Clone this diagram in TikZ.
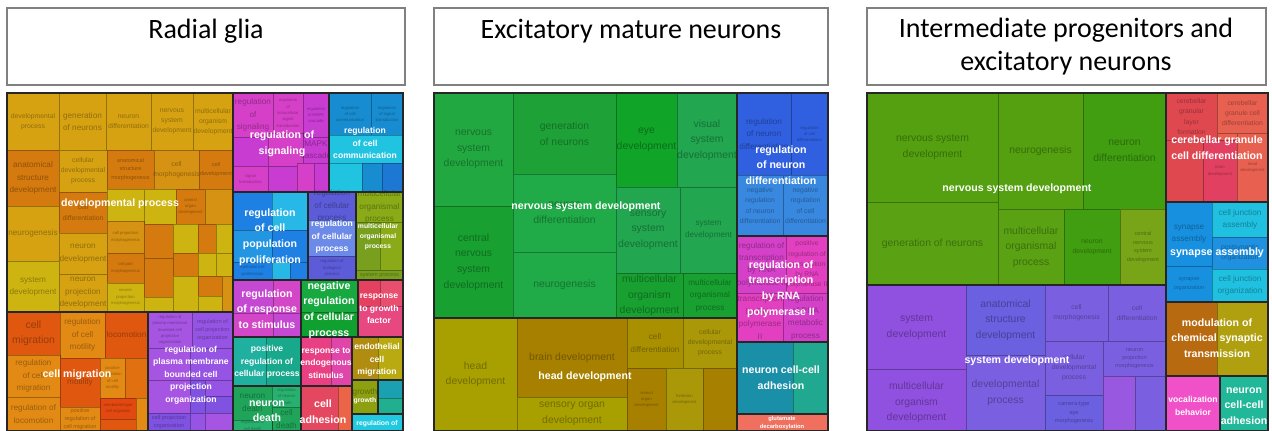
\documentclass[tikz,border=0pt]{standalone}
\usepackage{fontspec}
\setsansfont{Liberation Sans}
\newfontfamily\titlefont{Carlito}

% treemap colours
\definecolor{gold}{RGB}{214,162,18}
\definecolor{gold2}{RGB}{214,146,18}
\definecolor{ambr}{RGB}{212,122,14}
\definecolor{yell}{RGB}{206,180,16}
\definecolor{redor}{RGB}{224,88,16}
\definecolor{redor2}{RGB}{224,112,16}
\definecolor{orng}{RGB}{226,138,20}
\definecolor{redC}{RGB}{226,72,16}
\definecolor{prpA}{RGB}{166,84,226}
\definecolor{prpB}{RGB}{150,84,228}
\definecolor{prpC}{RGB}{128,82,226}
\definecolor{mgA}{RGB}{214,64,200}
\definecolor{mgB}{RGB}{200,60,210}
\definecolor{mgC}{RGB}{196,72,210}
\definecolor{mgD}{RGB}{212,70,200}
\definecolor{cbA}{RGB}{24,140,208}
\definecolor{cbB}{RGB}{28,120,210}
\definecolor{cyA}{RGB}{32,196,224}
\definecolor{blA}{RGB}{30,128,226}
\definecolor{blB}{RGB}{34,150,226}
\definecolor{cyB}{RGB}{40,184,232}
\definecolor{viA}{RGB}{92,92,216}
\definecolor{viB}{RGB}{108,138,232}
\definecolor{olG}{RGB}{138,170,24}
\definecolor{olH}{RGB}{120,160,30}
\definecolor{grA}{RGB}{24,168,64}
\definecolor{grB}{RGB}{16,160,48}
\definecolor{rdA}{RGB}{228,64,96}
\definecolor{rdA2}{RGB}{234,78,110}
\definecolor{pkA}{RGB}{232,72,128}
\definecolor{tlA}{RGB}{32,176,160}
\definecolor{tlB}{RGB}{24,168,140}
\definecolor{pkB}{RGB}{232,64,130}
\definecolor{pkC}{RGB}{224,70,170}
\definecolor{olA}{RGB}{176,140,16}
\definecolor{olB}{RGB}{184,170,16}
\definecolor{olC}{RGB}{140,160,16}
\definecolor{tlC}{RGB}{26,160,176}
\definecolor{tlD}{RGB}{32,176,144}
\definecolor{cyC}{RGB}{32,200,224}
\definecolor{grC}{RGB}{32,164,90}
\definecolor{grD}{RGB}{40,176,110}
\definecolor{rdB}{RGB}{228,72,96}
\definecolor{rdC}{RGB}{236,100,72}
\definecolor{gnA}{RGB}{34,168,64}
\definecolor{gnA2}{RGB}{30,162,56}
\definecolor{gnB}{RGB}{24,160,48}
\definecolor{gnC}{RGB}{32,170,72}
\definecolor{gnD}{RGB}{16,164,40}
\definecolor{gnE}{RGB}{34,166,80}
\definecolor{hdA}{RGB}{168,160,0}
\definecolor{hdB}{RGB}{168,128,0}
\definecolor{hdC}{RGB}{168,144,0}
\definecolor{hdD}{RGB}{170,152,8}
\definecolor{nbA}{RGB}{48,96,224}
\definecolor{nbB}{RGB}{56,136,224}
\definecolor{tmA}{RGB}{212,64,200}
\definecolor{tmB}{RGB}{226,64,192}
\definecolor{taA}{RGB}{26,144,168}
\definecolor{taB}{RGB}{32,168,144}
\definecolor{smA}{RGB}{240,112,96}
\definecolor{igA}{RGB}{84,160,16}
\definecolor{igB}{RGB}{90,162,20}
\definecolor{igC}{RGB}{64,158,16}
\definecolor{igD}{RGB}{120,164,24}
\definecolor{ipA}{RGB}{144,80,224}
\definecolor{ipB}{RGB}{106,96,224}
\definecolor{ipC}{RGB}{122,96,224}
\definecolor{ipD}{RGB}{152,88,224}
\definecolor{crA}{RGB}{224,72,80}
\definecolor{crB}{RGB}{232,96,80}
\definecolor{crC}{RGB}{226,64,96}
\definecolor{syA}{RGB}{24,144,224}
\definecolor{syB}{RGB}{32,192,224}
\definecolor{syC}{RGB}{32,144,224}
\definecolor{mdA}{RGB}{184,106,16}
\definecolor{mdB}{RGB}{176,160,16}
\definecolor{voA}{RGB}{240,80,200}
\definecolor{nnA}{RGB}{32,184,152}

% one treemap cell: [size]{x1}{y1}{x2}{y2}{fill}{text}
\newcommand{\tmcell}[7][sz3]{%
  \filldraw[cell, fill=#6] (#2,#3) rectangle (#4,#5);
  \node[sub, #1] (c#2-#3) at ({(#2+#4)/2},{(#3+#5)/2}) {#7};}
% thick frame round one term group
\newcommand{\tmgroup}[4]{\draw[grp] (#1,#2) rectangle (#3,#4);}

\begin{document}
\begin{tikzpicture}[
    x=0.5pt, y=-0.5pt,
    cell/.style={draw=black, draw opacity=0.3, line width=0.4pt},
    grp/.style={draw=black!85, line width=1pt},
    titlebox/.style={draw=black!50, line width=0.6pt},
    ttl/.style={font=\titlefont\fontsize{14}{16.5}\selectfont, align=center, inner sep=0pt},
    sub/.style={text=black, text opacity=0.32, align=center, inner sep=0pt},
    sz1/.style={font=\sffamily\fontsize{5.2}{7.8}\selectfont},
    sz2/.style={font=\sffamily\fontsize{4.1}{6.2}\selectfont},
    sz3/.style={font=\sffamily\fontsize{3.4}{5.1}\selectfont},
    sz4/.style={font=\sffamily\fontsize{2.8}{4.2}\selectfont},
    sz5/.style={font=\sffamily\fontsize{2.1}{3.2}\selectfont},
    lbl/.style={text=white, align=center, inner sep=0pt, font=\sffamily\bfseries\fontsize{5.3}{7.8}\selectfont},
    lblM/.style={lbl, font=\sffamily\bfseries\fontsize{4.3}{6.3}\selectfont},
    lblS/.style={lbl, font=\sffamily\bfseries\fontsize{3.4}{5}\selectfont},
    lblT/.style={lbl, font=\sffamily\bfseries\fontsize{2.9}{3.6}\selectfont}
]
\useasboundingbox (0,0) rectangle (1272,431);
\clip (0,0) rectangle (1272,431);

% Titles
\draw[titlebox] (7,8) rectangle (405,85);
\node[ttl] (t1) at (206,31) {Radial glia};
\draw[titlebox] (434,8) rectangle (828,85);
\node[ttl] (t2) at (631,31) {Excitatory mature neurons};
\draw[titlebox] (867,8) rectangle (1266,85);
\node[ttl] (t3) at (1066,47) {Intermediate progenitors and\\excitatory neurons};

% ---------------- Radial glia ----------------
% developmental process
\tmcell{7}{93}{59}{150}{gold}{developmental\\process}
\tmcell[sz2]{59}{93}{106}{150}{gold}{generation\\of neurons}
\tmcell{106}{93}{151}{150}{gold}{neuron\\differentiation}
\tmcell{151}{93}{193}{150}{gold}{nervous\\system\\development}
\tmcell{193}{93}{233}{150}{gold}{multicellular\\organism\\development}
\tmcell[sz2]{7}{150}{59}{206}{ambr}{anatomical\\structure\\development}
\tmcell[sz2]{7}{206}{59}{261}{gold}{neurogenesis}
\tmcell[sz2]{7}{261}{59}{312}{yell}{system\\development}
\tmcell{59}{150}{107}{192}{gold}{cellular\\developmental\\process}
\tmcell{59}{192}{107}{233}{ambr}{cell\\differentiation}
\tmcell[sz2]{59}{233}{107}{274}{gold}{neuron\\development}
\tmcell[sz2]{59}{274}{107}{312}{gold}{neuron\\projection\\development}
\tmcell[sz4]{107}{150}{154}{189}{ambr}{anatomical\\structure\\morphogenesis}
\tmcell{154}{150}{199}{189}{gold2}{cell\\morphogenesis}
\tmcell[sz4]{199}{150}{233}{189}{ambr}{cell\\development}
\tmcell{107}{189}{144}{221}{yell}{}
\tmcell{144}{189}{176}{224}{yell}{}
\tmcell[sz5]{176}{189}{205}{224}{ambr}{animal\\organ\\development}
\tmcell{205}{189}{233}{224}{gold2}{}
\tmcell[sz5]{107}{221}{144}{253}{gold2}{cell projection\\morphogenesis}
\tmcell[sz5]{107}{253}{144}{283}{ambr}{cell part\\morphogenesis}
\tmcell[sz5]{107}{283}{144}{312}{yell}{neuron\\projection\\morphogenesis}
\tmcell{144}{224}{173}{258}{ambr}{}
\tmcell{144}{258}{173}{297}{ambr}{}
\tmcell{144}{297}{173}{312}{yell}{}
\tmcell{173}{224}{198}{253}{yell}{}
\tmcell{198}{224}{216}{253}{ambr}{}
\tmcell{216}{224}{233}{253}{yell}{}
\tmcell{173}{253}{198}{276}{ambr}{}
\tmcell{198}{253}{216}{276}{yell}{}
\tmcell{216}{253}{233}{276}{yell}{}
\tmcell{173}{276}{198}{312}{yell}{}
\tmcell{198}{276}{222}{296}{ambr}{}
\tmcell{198}{296}{222}{312}{yell}{}
\tmcell{222}{276}{233}{312}{gold2}{}
% cell migration
\tmcell[sz1]{7}{312}{60}{355}{redor}{cell\\migration}
\tmcell[sz2]{60}{312}{105}{358}{orng}{regulation\\of cell\\motility}
\tmcell[sz2]{105}{312}{148}{358}{redor}{locomotion}
\tmcell[sz2]{7}{355}{60}{397}{orng}{regulation\\of cell\\migration}
\tmcell[sz2]{7}{397}{60}{431}{orng}{regulation of\\locomotion}
\tmcell[sz2]{60}{358}{100}{407}{redor}{motility}
\tmcell[sz5]{100}{358}{125}{398}{orng}{positive\\regulation\\of cell\\motility}
\tmcell{125}{358}{148}{398}{redor2}{}
\tmcell[sz4]{60}{407}{100}{431}{orng}{positive\\regulation of\\cell migration}
\tmcell[sz5]{100}{398}{136}{419}{redC}{ameboidal-type\\cell migration}
\tmcell{100}{419}{136}{431}{redor}{}
\tmcell{136}{398}{148}{431}{orng}{}
% plasma membrane bounded cell projection
\tmcell[sz5]{148}{312}{192}{348}{prpA}{regulation of\\plasma membrane\\bounded cell\\projection\\organization}
\tmcell[sz4]{192}{312}{233}{348}{prpB}{regulation of\\cell projection\\organization}
\tmcell{148}{348}{190}{380}{prpA}{}
\tmcell{190}{348}{233}{380}{prpB}{}
\tmcell{148}{380}{190}{413}{prpA}{}
\tmcell{190}{380}{205}{413}{prpC}{}
\tmcell{205}{380}{233}{396}{prpB}{}
\tmcell{205}{396}{233}{413}{prpC}{}
\tmcell[sz4]{148}{413}{190}{431}{prpC}{cell projection\\organization}
\tmcell{190}{413}{205}{431}{prpB}{}
\tmcell{205}{413}{233}{431}{prpA}{}
% signaling
\tmcell[sz2]{233}{93}{273}{137}{mgA}{regulation\\of\\signaling}
\tmcell[sz5]{273}{93}{303}{133}{mgA}{regulation\\of\\intracellular\\signal\\transduction}
\tmcell[sz5]{303}{93}{329}{137}{mgB}{regulation\\of MAPK\\cascade}
\tmcell{233}{137}{268}{166}{mgB}{}
\tmcell{268}{133}{303}{166}{mgA}{}
\tmcell[sz2]{303}{137}{329}{163}{mgB}{MAPK\\cascade}
\tmcell[sz5]{233}{166}{268}{192}{mgA}{signal\\transduction}
\tmcell{268}{166}{297}{192}{mgB}{}
\tmcell{297}{163}{314}{192}{mgA}{}
\tmcell{314}{163}{329}{192}{mgB}{}
% cell communication
\tmcell[sz5]{329}{93}{371}{135}{cbA}{regulation\\of cell\\communication}
\tmcell[sz5]{371}{93}{403}{135}{cbA}{regulation\\of signal\\transduction}
\tmcell{329}{135}{403}{163}{cyA}{}
\tmcell{329}{163}{362}{192}{cyA}{}
\tmcell{362}{163}{382}{192}{cbA}{}
\tmcell{382}{163}{403}{192}{cbB}{}
% proliferation
\tmcell{233}{192}{272}{230}{blA}{}
\tmcell{272}{192}{308}{230}{cyB}{}
\tmcell{233}{230}{272}{262}{blB}{}
\tmcell{272}{230}{308}{262}{blA}{}
\tmcell[sz5]{233}{262}{272}{280}{blA}{epithelial cell\\proliferation}
\tmcell{272}{262}{290}{280}{cyB}{}
\tmcell{290}{262}{308}{280}{blA}{}
% cellular process
\tmcell[sz2]{308}{192}{356}{220}{viA}{regulation\\of cellular\\process}
\tmcell{308}{220}{356}{256}{viB}{}
\tmcell[sz5]{308}{256}{356}{280}{viA}{regulation of\\biological\\process}
% multicellular organismal process
\tmcell[sz2]{356}{192}{403}{222}{olG}{multicellular\\organismal\\process}
\tmcell{356}{222}{380}{270}{olH}{}
\tmcell{380}{222}{403}{270}{olG}{}
\tmcell[sz4]{356}{270}{403}{280}{olH}{system process}
% lower blocks
\tmcell{233}{280}{273}{313}{mgC}{}
\tmcell{273}{280}{301}{313}{mgD}{}
\tmcell{233}{313}{273}{337}{mgD}{}
\tmcell{273}{313}{301}{337}{mgC}{}
\tmcell{301}{280}{358}{312}{grA}{}
\tmcell{301}{312}{358}{337}{grB}{}
\tmcell{358}{280}{380}{306}{rdA}{}
\tmcell{380}{280}{403}{306}{rdA2}{}
\tmcell{358}{306}{403}{337}{pkA}{}
\tmcell{233}{337}{266}{386}{tlA}{}
\tmcell{266}{337}{301}{386}{tlB}{}
\tmcell{301}{337}{331}{386}{pkB}{}
\tmcell{331}{337}{352}{386}{pkC}{}
\tmcell{352}{337}{378}{380}{olA}{}
\tmcell{378}{337}{403}{380}{olB}{}
\tmcell{352}{380}{378}{414}{olC}{}
\node[sub, sz2] (c-growth) at (365,392) {growth};
\tmcell{378}{380}{403}{398}{tlC}{}
\tmcell{378}{398}{403}{414}{tlD}{}
\tmcell{352}{414}{403}{431}{cyC}{}
\tmcell[sz2]{233}{386}{272}{420}{grC}{neuron\\death}
\tmcell[sz5]{272}{386}{301}{407}{grD}{regulation\\of neuron\\death}
\tmcell[sz2]{272}{407}{301}{431}{grC}{cell\\death}
\tmcell[sz5]{233}{420}{272}{431}{grD}{regulation of\\cell death}
\tmcell{301}{386}{338}{431}{rdB}{}
\tmcell{338}{386}{352}{431}{rdC}{}

% group frames
\tmgroup{7}{93}{233}{312}
\tmgroup{7}{312}{148}{431}
\tmgroup{148}{312}{233}{431}
\tmgroup{233}{93}{329}{192}
\tmgroup{329}{93}{403}{192}
\tmgroup{233}{192}{308}{280}
\tmgroup{308}{192}{356}{280}
\tmgroup{356}{192}{403}{280}
\tmgroup{233}{280}{301}{337}
\tmgroup{301}{280}{358}{337}
\tmgroup{358}{280}{403}{337}
\tmgroup{233}{337}{301}{386}
\tmgroup{301}{337}{352}{386}
\tmgroup{352}{337}{403}{380}
\tmgroup{352}{380}{378}{414}
\tmgroup{378}{380}{403}{414}
\tmgroup{352}{414}{403}{431}
\tmgroup{233}{386}{301}{431}
\tmgroup{301}{386}{352}{431}

% group labels
\node[lbl] (l-dev) at (120,204) {developmental process};
\node[lbl] (l-mig) at (77,375) {cell migration};
\node[lblM] (l-pmb) at (191,375) {regulation of\\plasma membrane\\bounded cell\\projection\\organization};
\node[lbl] (l-sig) at (282,144) {regulation of\\signaling};
\node[lblM] (l-com) at (365,143) {regulation\\of cell\\communication};
\node[lbl] (l-pro) at (270,237) {regulation\\of cell\\population\\proliferation};
\node[lblM] (l-cpr) at (332,237) {regulation\\of cellular\\process};
\node[lblS] (l-mop) at (378,237) {multicellular\\organismal\\process};
\node[lbl] (l-rsp) at (267,309) {regulation\\of response\\to stimulus};
\node[lbl] (l-neg) at (329,310) {negative\\regulation\\of cellular\\process};
\node[lblM] (l-rgf) at (379,309) {response\\to growth\\factor};
\node[lblM] (l-pos) at (267,362) {positive\\regulation of\\cellular process};
\node[lblM] (l-end) at (326,363) {response to\\endogenous\\stimulus};
\node[lblM] (l-emi) at (377,360) {endothelial\\cell\\migration};
\node[lblS] (l-gro) at (365,401) {growth};
\node[lblS] (l-rbq) at (377,424) {regulation of};
\node[lbl] (l-dth) at (267,411) {neuron\\death};
\node[lbl] (l-adh) at (323,412) {cell\\adhesion};

% ---------------- Excitatory mature neurons ----------------
\tmcell[sz1]{434}{93}{513}{206}{gnA}{nervous\\system\\development}
\tmcell[sz1]{434}{206}{513}{318}{gnB}{central\\nervous\\system\\development}
\tmcell[sz1]{513}{93}{616}{174}{gnA2}{generation\\of neurons}
\tmcell[sz1]{513}{174}{616}{252}{gnC}{neuron\\differentiation}
\tmcell[sz1]{513}{252}{616}{318}{gnC}{neurogenesis}
\tmcell[sz1]{616}{93}{677}{187}{gnD}{eye\\development}
\tmcell[sz1]{677}{93}{737}{187}{gnE}{visual\\system\\development}
\tmcell[sz1]{616}{187}{680}{273}{gnE}{sensory\\system\\development}
\tmcell[sz2]{680}{187}{737}{273}{gnE}{system\\development}
\tmcell[sz1]{616}{273}{683}{318}{gnB}{multicellular\\organism\\development}
\tmcell[sz2]{683}{273}{737}{318}{gnB}{multicellular\\organismal\\process}
\tmcell[sz1]{434}{318}{517}{431}{hdA}{head\\development}
\tmcell[sz1]{517}{318}{627}{397}{hdB}{brain development}
\tmcell[sz1]{517}{397}{627}{431}{hdA}{sensory organ\\development}
\tmcell[sz2]{627}{318}{683}{368}{hdC}{cell\\differentiation}
\tmcell{683}{318}{737}{368}{hdD}{cellular\\developmental\\process}
\tmcell[sz5]{627}{368}{666}{431}{hdB}{animal\\organ\\development}
\tmcell[sz5]{666}{368}{703}{431}{hdD}{forebrain\\development}
\tmcell{703}{368}{737}{431}{hdB}{}
\tmcell[sz2]{737}{93}{791}{175}{nbA}{regulation\\of neuron\\differentiation}
\tmcell[sz5]{791}{93}{828}{175}{nbA}{regulation\\of cell\\differentiation}
\tmcell{737}{175}{783}{236}{nbB}{negative\\regulation\\of neuron\\differentiation}
\tmcell{783}{175}{828}{236}{nbB}{negative\\regulation\\of cell\\differentiation}
\tmcell[sz2]{737}{236}{786}{293}{tmA}{regulation of\\transcription\\by RNA\\polymerase II}
\tmcell{786}{236}{828}{293}{tmB}{positive\\regulation of\\transcription\\by RNA\\polymerase II}
\tmcell[sz2]{737}{293}{783}{342}{tmB}{transcription\\by RNA\\polymerase\\II}
\tmcell[sz2]{783}{293}{828}{342}{tmA}{regulation\\of RNA\\metabolic\\process}
\tmcell{737}{342}{793}{414}{taA}{}
\tmcell{793}{342}{828}{414}{taB}{}
\tmcell{737}{414}{828}{431}{smA}{}

\tmgroup{434}{93}{737}{318}
\tmgroup{434}{318}{737}{431}
\tmgroup{737}{93}{828}{236}
\tmgroup{737}{236}{828}{342}
\tmgroup{737}{342}{828}{414}
\tmgroup{737}{414}{828}{431}

\node[lbl] (l-nsd2) at (586,207) {nervous system development};
\node[lbl] (l-hd) at (585,377) {head development};
\node[lbl] (l-rnd) at (781,165) {regulation\\of neuron\\differentiation};
\node[lbl] (l-rtr) at (781,289) {regulation of\\transcription\\by RNA\\polymerase II};
\node[lbl] (l-ncc2) at (781,378) {neuron cell-cell\\adhesion};
\node[lblT] (l-glu) at (782,423) {glutamate\\decarboxylation};

% ---------------- Intermediate progenitors ----------------
\tmcell[sz1]{867}{93}{998}{202}{igA}{nervous system\\development}
\tmcell[sz1]{867}{202}{998}{285}{igB}{generation of neurons}
\tmcell[sz1]{998}{93}{1083}{209}{igA}{neurogenesis}
\tmcell[sz1]{1083}{93}{1166}{209}{igC}{neuron\\differentiation}
\tmcell[sz1]{998}{209}{1064}{285}{igB}{multicellular\\organismal\\process}
\tmcell{1064}{209}{1120}{285}{igC}{neuron\\development}
\tmcell[sz4]{1120}{209}{1166}{285}{igD}{central\\nervous\\system\\development}
\tmcell[sz1]{867}{285}{966}{369}{ipA}{system\\development}
\tmcell[sz1]{867}{369}{966}{436}{ipA}{multicellular\\organism\\development}
\tmcell[sz1]{966}{285}{1045}{355}{ipB}{anatomical\\structure\\development}
\tmcell[sz1]{966}{355}{1045}{431}{ipC}{developmental\\process}
\tmcell{1045}{285}{1108}{341}{ipC}{cell\\morphogenesis}
\tmcell{1108}{285}{1166}{341}{ipC}{cell\\differentiation}
\tmcell{1045}{341}{1103}{395}{ipC}{cellular\\developmental\\process}
\tmcell[sz4]{1045}{395}{1103}{431}{ipB}{camera-type\\eye\\morphogenesis}
\tmcell[sz4]{1103}{341}{1166}{376}{ipC}{neuron\\projection\\morphogenesis}
\tmcell{1103}{376}{1135}{431}{ipD}{}
\tmcell{1135}{376}{1166}{431}{ipC}{}
\tmcell{1166}{93}{1217}{140}{crA}{cerebellar\\granular\\layer\\formation}
\tmcell{1217}{93}{1268}{133}{crB}{cerebellar\\granule cell\\differentiation}
\tmcell{1217}{133}{1237}{140}{crB}{}
\tmcell{1166}{140}{1203}{202}{crA}{}
\tmcell[sz5]{1203}{140}{1237}{202}{crC}{brain\\development}
\tmcell[sz5]{1237}{133}{1268}{202}{crB}{head\\development}
\tmcell[sz2]{1166}{202}{1212}{266}{syA}{synapse\\assembly}
\tmcell[sz4]{1166}{266}{1212}{302}{syA}{synapse\\organization}
\tmcell[sz2]{1212}{202}{1268}{237}{syB}{cell junction\\assembly}
\tmcell{1212}{237}{1268}{269}{syC}{postsynaptic\\organization}
\tmcell[sz2]{1212}{269}{1268}{302}{syB}{cell junction\\organization}
\tmcell{1166}{302}{1217}{376}{mdA}{}
\tmcell{1217}{302}{1268}{376}{mdB}{}
\tmcell{1166}{376}{1220}{431}{voA}{}
\tmcell{1220}{376}{1268}{431}{nnA}{}

\tmgroup{867}{93}{1166}{285}
\tmgroup{867}{285}{1166}{431}
\tmgroup{1166}{93}{1268}{202}
\tmgroup{1166}{202}{1268}{302}
\tmgroup{1166}{302}{1268}{376}
\tmgroup{1166}{376}{1220}{431}
\tmgroup{1220}{376}{1268}{431}

\node[lbl] (l-nsd3) at (1017,189) {nervous system development};
\node[lbl] (l-sd3) at (1017,361) {system development};
\node[lbl] (l-cgc) at (1217,148) {cerebellar granule\\cell differentiation};
\node[lbl] (l-syn) at (1217,253) {synapse assembly};
\node[lbl] (l-mod) at (1217,338) {modulation of\\chemical synaptic\\transmission};
\node[lblM] (l-voc) at (1193,406) {vocalization\\behavior};
\node[lbl] (l-ncc3) at (1244,406) {neuron\\cell-cell\\adhesion};

\end{tikzpicture}
\end{document}
